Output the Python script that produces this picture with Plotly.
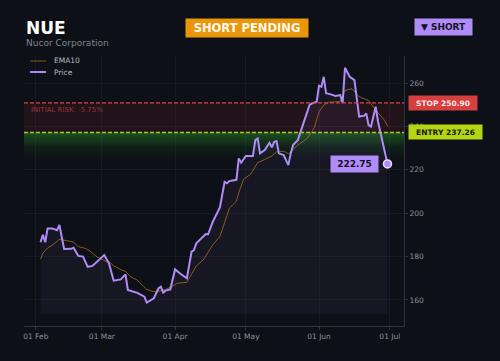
import plotly.graph_objects as go

# ---------------- data ----------------
ticker = "NUE"
company = "Nucor Corporation"
status_text = "SHORT PENDING"
side_text = "▼ SHORT"
stop_price = 250.90
entry_price = 237.26
fill_floor = 153.5

price_dates = [
    "2025-02-03", "2025-02-04", "2025-02-05", "2025-02-06", "2025-02-08", "2025-02-09",
    "2025-02-10", "2025-02-11", "2025-02-13", "2025-02-16", "2025-02-17", "2025-02-19",
    "2025-02-21", "2025-02-23", "2025-02-25", "2025-03-02", "2025-03-04", "2025-03-06",
    "2025-03-09", "2025-03-11", "2025-03-12", "2025-03-16", "2025-03-18", "2025-03-19",
    "2025-03-20", "2025-03-22", "2025-03-23", "2025-03-25", "2025-03-26", "2025-03-27",
    "2025-03-28", "2025-03-30", "2025-04-01", "2025-04-03", "2025-04-06", "2025-04-08",
    "2025-04-09", "2025-04-10", "2025-04-12", "2025-04-14", "2025-04-15", "2025-04-17",
    "2025-04-20", "2025-04-22", "2025-04-23", "2025-04-24", "2025-04-27", "2025-04-28",
    "2025-04-29", "2025-05-01", "2025-05-04", "2025-05-05", "2025-05-06", "2025-05-07",
    "2025-05-09", "2025-05-10", "2025-05-11", "2025-05-12", "2025-05-13", "2025-05-14",
    "2025-05-15", "2025-05-17", "2025-05-19", "2025-05-20", "2025-05-21", "2025-05-23",
    "2025-05-25", "2025-05-27", "2025-05-28", "2025-05-29", "2025-05-31", "2025-06-01",
    "2025-06-02", "2025-06-03", "2025-06-04", "2025-06-06", "2025-06-08", "2025-06-10",
    "2025-06-11", "2025-06-12", "2025-06-14", "2025-06-16", "2025-06-18", "2025-06-19",
    "2025-06-20", "2025-06-21", "2025-06-22", "2025-06-23", "2025-06-25", "2025-06-26",
    "2025-06-28", "2025-06-30",
]
price_values = [
    186.6, 190.0, 186.6, 193.0, 193.0, 192.5,
    192.2, 194.6, 183.5, 183.6, 184.1, 180.3,
    180.0, 175.3, 175.7, 180.7, 176.9, 168.9,
    169.5, 171.8, 164.6, 163.3, 162.3, 161.5,
    158.8, 160.0, 160.8, 165.4, 166.1, 163.4,
    164.3, 164.9, 174.1, 172.3, 170.0, 182.3,
    183.0, 186.1, 188.4, 190.4, 190.3, 196.1,
    202.7, 214.5, 213.8, 214.8, 215.4, 225.3,
    223.3, 226.4, 226.4, 233.7, 234.5, 227.6,
    229.1, 231.0, 232.5, 230.4, 232.9, 233.3,
    227.6, 226.8, 222.2, 227.6, 231.4, 233.7,
    239.9, 246.8, 249.9, 250.6, 251.4, 258.8,
    258.3, 262.9, 255.3, 254.8, 254.1, 254.5,
    250.9, 267.1, 262.9, 261.4, 244.5, 244.8,
    244.9, 246.0, 240.6, 239.9, 249.1, 242.2,
    232.9, 222.75,
]

ema_dates = [
    "2025-02-03", "2025-02-04", "2025-02-06", "2025-02-08", "2025-02-11", "2025-02-14",
    "2025-02-17", "2025-02-19", "2025-02-22", "2025-02-24", "2025-02-27", "2025-03-01",
    "2025-03-03", "2025-03-04", "2025-03-06", "2025-03-10", "2025-03-11", "2025-03-13",
    "2025-03-16", "2025-03-17", "2025-03-20", "2025-03-22", "2025-03-24", "2025-03-27",
    "2025-03-29", "2025-04-02", "2025-04-06", "2025-04-10", "2025-04-13", "2025-04-17",
    "2025-04-20", "2025-04-24", "2025-04-27", "2025-04-28", "2025-04-30", "2025-05-03",
    "2025-05-06", "2025-05-09", "2025-05-12", "2025-05-14", "2025-05-17", "2025-05-19",
    "2025-05-23", "2025-05-27", "2025-05-30", "2025-06-01", "2025-06-03", "2025-06-05",
    "2025-06-08", "2025-06-10", "2025-06-12", "2025-06-15", "2025-06-18", "2025-06-22",
    "2025-06-25", "2025-06-29", "2025-06-30",
]
ema_values = [
    178.9, 181.5, 184.0, 185.3, 188.0, 187.3,
    186.7, 184.6, 183.8, 182.5, 179.8, 178.8,
    177.6, 177.8, 175.7, 173.5, 173.3, 170.8,
    169.2, 168.0, 164.9, 164.1, 163.8, 164.5,
    165.3, 167.7, 168.2, 175.7, 178.5, 185.5,
    189.2, 202.3, 205.5, 209.5, 215.6, 218.0,
    223.3, 224.8, 226.4, 228.3, 228.6, 227.4,
    231.4, 234.5, 239.4, 246.8, 249.9, 251.1,
    251.4, 251.6, 256.6, 257.4, 253.7, 252.0,
    247.6, 242.5, 240.2,
]

y_ticks = [160, 180, 200, 220, 240, 260]
x_range = ["2025-01-27", "2025-07-07"]
y_range = [148, 272.5]

# ---------------- styling ----------------
FONT = "DejaVu Sans"
BG = "#0d1016"
GRID = "rgba(255,255,255,0.045)"
AXIS = "#30343d"
TICK = "#8c9098"
PURPLE = "#b08cf9"
EMA_C = "rgba(217,140,30,0.58)"
RED = "#dc4444"
LIME = "#b4d414"

risk_pct = (stop_price - entry_price) / entry_price * 100

fig = go.Figure()

# green gradient band under the entry line
band_low = entry_price - 13
fig.add_trace(go.Scatter(
    x=[x_range[0], x_range[1], x_range[1], x_range[0], x_range[0]],
    y=[entry_price, entry_price, band_low, band_low, entry_price],
    mode="lines", line=dict(width=0), fill="toself",
    fillgradient=dict(type="vertical",
                      colorscale=[[0, "rgba(40,160,40,0)"],
                                  [0.45, "rgba(40,160,40,0.10)"],
                                  [1, "rgba(40,160,40,0.45)"]]),
    hoverinfo="skip", showlegend=False,
))

# floor for the price area fill
fig.add_trace(go.Scatter(
    x=[price_dates[0], price_dates[-1]], y=[fill_floor, fill_floor],
    mode="lines", line=dict(width=0), hoverinfo="skip", showlegend=False,
))
# price area fill
fig.add_trace(go.Scatter(
    x=price_dates, y=price_values, mode="lines", line=dict(width=0),
    fill="tonexty", fillcolor="rgba(176,140,249,0.06)",
    hoverinfo="skip", showlegend=False,
))
# EMA10
fig.add_trace(go.Scatter(
    x=ema_dates, y=ema_values, mode="lines", name="EMA10",
    line=dict(color=EMA_C, width=1), showlegend=False,
))
# Price
fig.add_trace(go.Scatter(
    x=price_dates, y=price_values, mode="lines", name="Price",
    line=dict(color=PURPLE, width=2), showlegend=False,
))
# last point marker
fig.add_trace(go.Scatter(
    x=[price_dates[-1]], y=[price_values[-1]], mode="markers",
    marker=dict(size=8, color=PURPLE, line=dict(color="#e6dcff", width=1.5)),
    hoverinfo="skip", showlegend=False,
))

shapes = [
    # risk band between entry and stop
    dict(type="rect", xref="paper", yref="y", x0=0, x1=1, y0=entry_price, y1=stop_price,
         fillcolor="rgba(220,50,60,0.10)", line=dict(width=0), layer="below"),
    dict(type="line", xref="paper", yref="y", x0=0, x1=1, y0=stop_price, y1=stop_price,
         line=dict(color=RED, width=1.2, dash="4px,2px")),
    dict(type="line", xref="paper", yref="y", x0=0, x1=1, y0=entry_price, y1=entry_price,
         line=dict(color="#a8c828", width=1.5, dash="4px,2px")),
    # manual legend samples
    dict(type="line", xref="paper", yref="paper", x0=0.016, x1=0.058, y0=0.9815, y1=0.9815,
         line=dict(color=EMA_C, width=1)),
    dict(type="line", xref="paper", yref="paper", x0=0.016, x1=0.058, y0=0.9407, y1=0.9407,
         line=dict(color=PURPLE, width=2)),
]

annotations = [
    dict(text="<b>" + ticker + "</b>", xref="paper", yref="paper", x=0.0, y=1.103,
         xanchor="left", yanchor="middle", showarrow=False,
         font=dict(family=FONT, size=17, color="#ffffff")),
    dict(text=company, xref="paper", yref="paper", x=0.0, y=1.049,
         xanchor="left", yanchor="middle", showarrow=False,
         font=dict(family=FONT, size=9, color="#80848d")),
    dict(text="<b>" + status_text + "</b>", xref="paper", yref="paper", x=0.5863, y=1.1044,
         xanchor="center", yanchor="middle", showarrow=False, width=120, height=16,
         bgcolor="#e8960c", font=dict(family=FONT, size=11.5, color="#fff8ec")),
    dict(text="<b>" + side_text + "</b>", xref="paper", yref="paper", x=1.1045, y=1.1074,
         xanchor="center", yanchor="middle", showarrow=False, width=55, height=14,
         bgcolor=PURPLE, font=dict(family=FONT, size=9, color="#15121f")),
    dict(text="EMA10", xref="paper", yref="paper", x=0.0737, y=0.9815,
         xanchor="left", yanchor="middle", showarrow=False,
         font=dict(family=FONT, size=7.5, color="#b8bcc4")),
    dict(text="Price", xref="paper", yref="paper", x=0.0737, y=0.9407,
         xanchor="left", yanchor="middle", showarrow=False,
         font=dict(family=FONT, size=7.5, color="#b8bcc4")),
    dict(text=f"INITIAL RISK: -{risk_pct:.2f}%", xref="paper", yref="y", x=0.012, y=stop_price,
         xanchor="left", yanchor="top", yshift=-1, showarrow=False,
         font=dict(family=FONT, size=7, color="rgba(200,60,70,0.75)")),
    dict(text=f"<b>STOP {stop_price:.2f}</b>", xref="paper", yref="y", x=1.0113, y=stop_price,
         xanchor="left", yanchor="middle", showarrow=False, width=66, height=12,
         bgcolor="#d63f3f", font=dict(family=FONT, size=7.5, color="#fbe6e6")),
    dict(text=f"<b>ENTRY {entry_price:.2f}</b>", xref="paper", yref="y", x=1.0113, y=entry_price,
         xanchor="left", yanchor="middle", showarrow=False, width=71, height=12,
         bgcolor=LIME, font=dict(family=FONT, size=7.5, color="#151a05")),
    dict(text=f"<b>{price_values[-1]:.2f}</b>", xref="x", yref="y", x=price_dates[-1],
         y=price_values[-1], xanchor="right", yanchor="middle", xshift=-8,
         showarrow=False, width=45, height=14,
         bgcolor=PURPLE, font=dict(family=FONT, size=9, color="#15121f")),
]

fig.update_layout(
    width=500, height=361,
    margin=dict(l=24, r=96, t=56, b=35),
    paper_bgcolor=BG, plot_bgcolor=BG,
    showlegend=False,
    font=dict(family=FONT, size=7.5, color=TICK),
    shapes=shapes,
    annotations=annotations,
    xaxis=dict(type="date", range=x_range, dtick="M1", tick0="2025-02-01",
               tickformat="%d %b", showgrid=True, gridcolor=GRID, gridwidth=1,
               ticks="outside", ticklen=3, tickcolor=AXIS, showline=True,
               linecolor=AXIS, linewidth=1, zeroline=False,
               tickfont=dict(family=FONT, size=7.5, color=TICK)),
    yaxis=dict(side="right", range=y_range, tickvals=y_ticks, showgrid=True,
               gridcolor=GRID, gridwidth=1, ticks="outside", ticklen=3,
               tickcolor=AXIS, showline=True, linecolor=AXIS, linewidth=1,
               zeroline=False, tickfont=dict(family=FONT, size=7.5, color=TICK)),
)

fig.write_html("out.html")
